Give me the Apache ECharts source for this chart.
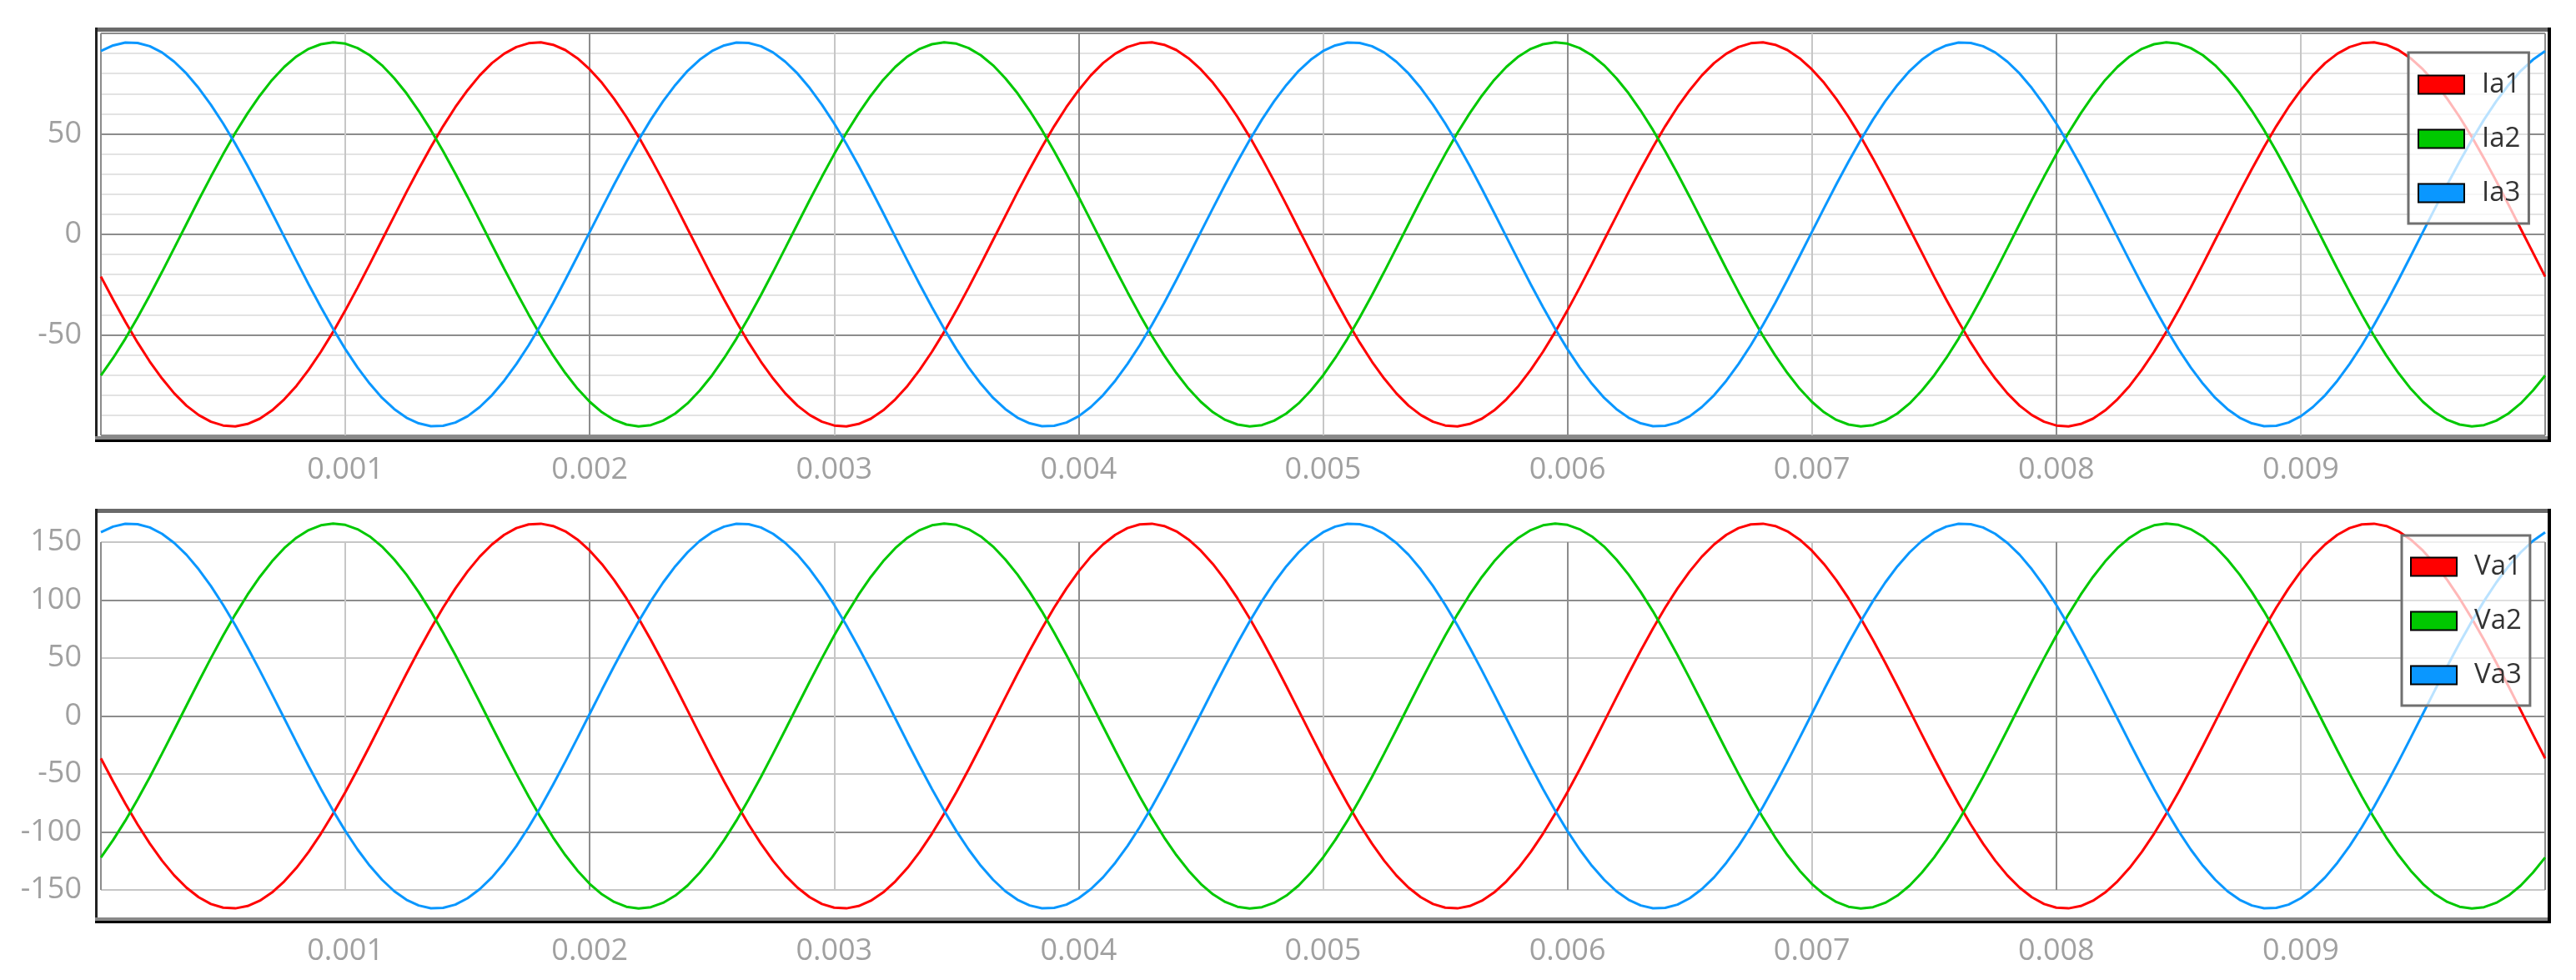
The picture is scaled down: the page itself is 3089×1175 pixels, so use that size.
<!DOCTYPE html>
<html>
<head>
<meta charset="utf-8">
<script src="https://cdn.jsdelivr.net/npm/echarts@6/dist/echarts.min.js"></script>
<style>html,body{margin:0;padding:0;background:#fff;}#c{width:3089px;height:1175px;}</style>
</head>
<body>
<div id="c"></div>
<script>
// time axis (s), sampled every 0.00005 s
const time = [
0,0.00005,0.0001,0.00015,0.0002,0.00025,0.0003,0.00035,0.0004,0.00045,0.0005,0.00055,0.0006,0.00065,0.0007,0.00075,0.0008,0.00085,0.0009,0.00095,
0.001,0.00105,0.0011,0.00115,0.0012,0.00125,0.0013,0.00135,0.0014,0.00145,0.0015,0.00155,0.0016,0.00165,0.0017,0.00175,0.0018,0.00185,0.0019,0.00195,
0.002,0.00205,0.0021,0.00215,0.0022,0.00225,0.0023,0.00235,0.0024,0.00245,0.0025,0.00255,0.0026,0.00265,0.0027,0.00275,0.0028,0.00285,0.0029,0.00295,
0.003,0.00305,0.0031,0.00315,0.0032,0.00325,0.0033,0.00335,0.0034,0.00345,0.0035,0.00355,0.0036,0.00365,0.0037,0.00375,0.0038,0.00385,0.0039,0.00395,
0.004,0.00405,0.0041,0.00415,0.0042,0.00425,0.0043,0.00435,0.0044,0.00445,0.0045,0.00455,0.0046,0.00465,0.0047,0.00475,0.0048,0.00485,0.0049,0.00495,
0.005,0.00505,0.0051,0.00515,0.0052,0.00525,0.0053,0.00535,0.0054,0.00545,0.0055,0.00555,0.0056,0.00565,0.0057,0.00575,0.0058,0.00585,0.0059,0.00595,
0.006,0.00605,0.0061,0.00615,0.0062,0.00625,0.0063,0.00635,0.0064,0.00645,0.0065,0.00655,0.0066,0.00665,0.0067,0.00675,0.0068,0.00685,0.0069,0.00695,
0.007,0.00705,0.0071,0.00715,0.0072,0.00725,0.0073,0.00735,0.0074,0.00745,0.0075,0.00755,0.0076,0.00765,0.0077,0.00775,0.0078,0.00785,0.0079,0.00795,
0.008,0.00805,0.0081,0.00815,0.0082,0.00825,0.0083,0.00835,0.0084,0.00845,0.0085,0.00855,0.0086,0.00865,0.0087,0.00875,0.0088,0.00885,0.0089,0.00895,
0.009,0.00905,0.0091,0.00915,0.0092,0.00925,0.0093,0.00935,0.0094,0.00945,0.0095,0.00955,0.0096,0.00965,0.0097,0.00975,0.0098,0.00985,0.0099,0.00995,
0.01];

const ia1 = [
-21.0,-32.5,-43.5,-53.8,-63.3,-71.7,-79.1,-85.2,-89.9,-93.2,-95.1,-95.5,-94.3,-91.7,-87.6,-82.1,-75.4,-67.4,-58.4,-48.5,-37.8,-26.5,-14.8,-2.8,9.1,
21.0,32.5,43.5,53.8,63.3,71.7,79.1,85.2,89.9,93.2,95.1,95.5,94.3,91.7,87.6,82.1,75.4,67.4,58.4,48.5,37.8,26.5,14.8,2.8,-9.1,
-21.0,-32.5,-43.5,-53.8,-63.3,-71.7,-79.1,-85.2,-89.9,-93.2,-95.1,-95.5,-94.3,-91.7,-87.6,-82.1,-75.4,-67.4,-58.4,-48.5,-37.8,-26.5,-14.8,-2.8,9.1,
21.0,32.5,43.5,53.8,63.3,71.7,79.1,85.2,89.9,93.2,95.1,95.5,94.3,91.7,87.6,82.1,75.4,67.4,58.4,48.5,37.8,26.5,14.8,2.8,-9.1,
-21.0,-32.5,-43.5,-53.8,-63.3,-71.7,-79.1,-85.2,-89.9,-93.2,-95.1,-95.5,-94.3,-91.7,-87.6,-82.1,-75.4,-67.4,-58.4,-48.5,-37.8,-26.5,-14.8,-2.8,9.1,
21.0,32.5,43.5,53.8,63.3,71.7,79.1,85.2,89.9,93.2,95.1,95.5,94.3,91.7,87.6,82.1,75.4,67.4,58.4,48.5,37.8,26.5,14.8,2.8,-9.1,
-21.0,-32.5,-43.5,-53.8,-63.3,-71.7,-79.1,-85.2,-89.9,-93.2,-95.1,-95.5,-94.3,-91.7,-87.6,-82.1,-75.4,-67.4,-58.4,-48.5,-37.8,-26.5,-14.8,-2.8,9.1,
21.0,32.5,43.5,53.8,63.3,71.7,79.1,85.2,89.9,93.2,95.1,95.5,94.3,91.7,87.6,82.1,75.4,67.4,58.4,48.5,37.8,26.5,14.8,2.8,-9.1,
-21.0];
const ia2 = [
-70.2,-61.5,-51.9,-41.4,-30.3,-18.7,-6.8,5.2,17.1,28.7,39.9,50.5,60.2,69.0,76.8,83.3,88.5,92.3,94.6,95.5,94.9,92.7,89.1,84.1,77.7,
70.2,61.5,51.9,41.4,30.3,18.7,6.8,-5.2,-17.1,-28.7,-39.9,-50.5,-60.2,-69.0,-76.8,-83.3,-88.5,-92.3,-94.6,-95.5,-94.9,-92.7,-89.1,-84.1,-77.7,
-70.2,-61.5,-51.9,-41.4,-30.3,-18.7,-6.8,5.2,17.1,28.7,39.9,50.5,60.2,69.0,76.8,83.3,88.5,92.3,94.6,95.5,94.9,92.7,89.1,84.1,77.7,
70.2,61.5,51.9,41.4,30.3,18.7,6.8,-5.2,-17.1,-28.7,-39.9,-50.5,-60.2,-69.0,-76.8,-83.3,-88.5,-92.3,-94.6,-95.5,-94.9,-92.7,-89.1,-84.1,-77.7,
-70.2,-61.5,-51.9,-41.4,-30.3,-18.7,-6.8,5.2,17.1,28.7,39.9,50.5,60.2,69.0,76.8,83.3,88.5,92.3,94.6,95.5,94.9,92.7,89.1,84.1,77.7,
70.2,61.5,51.9,41.4,30.3,18.7,6.8,-5.2,-17.1,-28.7,-39.9,-50.5,-60.2,-69.0,-76.8,-83.3,-88.5,-92.3,-94.6,-95.5,-94.9,-92.7,-89.1,-84.1,-77.7,
-70.2,-61.5,-51.9,-41.4,-30.3,-18.7,-6.8,5.2,17.1,28.7,39.9,50.5,60.2,69.0,76.8,83.3,88.5,92.3,94.6,95.5,94.9,92.7,89.1,84.1,77.7,
70.2,61.5,51.9,41.4,30.3,18.7,6.8,-5.2,-17.1,-28.7,-39.9,-50.5,-60.2,-69.0,-76.8,-83.3,-88.5,-92.3,-94.6,-95.5,-94.9,-92.7,-89.1,-84.1,-77.7,
-70.2];
const ia3 = [
91.2,94.0,95.4,95.2,93.6,90.5,85.9,80.0,72.8,64.5,55.2,45.0,34.1,22.6,10.8,-1.2,-13.1,-24.9,-36.2,-47.0,-57.1,-66.2,-74.3,-81.3,-86.9,
-91.2,-94.0,-95.4,-95.2,-93.6,-90.5,-85.9,-80.0,-72.8,-64.5,-55.2,-45.0,-34.1,-22.6,-10.8,1.2,13.1,24.9,36.2,47.0,57.1,66.2,74.3,81.3,86.9,
91.2,94.0,95.4,95.2,93.6,90.5,85.9,80.0,72.8,64.5,55.2,45.0,34.1,22.6,10.8,-1.2,-13.1,-24.9,-36.2,-47.0,-57.1,-66.2,-74.3,-81.3,-86.9,
-91.2,-94.0,-95.4,-95.2,-93.6,-90.5,-85.9,-80.0,-72.8,-64.5,-55.2,-45.0,-34.1,-22.6,-10.8,1.2,13.1,24.9,36.2,47.0,57.1,66.2,74.3,81.3,86.9,
91.2,94.0,95.4,95.2,93.6,90.5,85.9,80.0,72.8,64.5,55.2,45.0,34.1,22.6,10.8,-1.2,-13.1,-24.9,-36.2,-47.0,-57.1,-66.2,-74.3,-81.3,-86.9,
-91.2,-94.0,-95.4,-95.2,-93.6,-90.5,-85.9,-80.0,-72.8,-64.5,-55.2,-45.0,-34.1,-22.6,-10.8,1.2,13.1,24.9,36.2,47.0,57.1,66.2,74.3,81.3,86.9,
91.2,94.0,95.4,95.2,93.6,90.5,85.9,80.0,72.8,64.5,55.2,45.0,34.1,22.6,10.8,-1.2,-13.1,-24.9,-36.2,-47.0,-57.1,-66.2,-74.3,-81.3,-86.9,
-91.2,-94.0,-95.4,-95.2,-93.6,-90.5,-85.9,-80.0,-72.8,-64.5,-55.2,-45.0,-34.1,-22.6,-10.8,1.2,13.1,24.9,36.2,47.0,57.1,66.2,74.3,81.3,86.9,
91.2];
const va1 = [
-36.5,-56.5,-75.6,-93.5,-110.0,-124.7,-137.5,-148.0,-156.3,-162.1,-165.3,-165.9,-163.9,-159.3,-152.2,-142.7,-131.0,-117.2,-101.5,-84.2,-65.7,-46.0,-25.7,-4.9,15.9,
36.5,56.5,75.6,93.5,110.0,124.7,137.5,148.0,156.3,162.1,165.3,165.9,163.9,159.3,152.2,142.7,131.0,117.2,101.5,84.2,65.7,46.0,25.7,4.9,-15.9,
-36.5,-56.5,-75.6,-93.5,-110.0,-124.7,-137.5,-148.0,-156.3,-162.1,-165.3,-165.9,-163.9,-159.3,-152.2,-142.7,-131.0,-117.2,-101.5,-84.2,-65.7,-46.0,-25.7,-4.9,15.9,
36.5,56.5,75.6,93.5,110.0,124.7,137.5,148.0,156.3,162.1,165.3,165.9,163.9,159.3,152.2,142.7,131.0,117.2,101.5,84.2,65.7,46.0,25.7,4.9,-15.9,
-36.5,-56.5,-75.6,-93.5,-110.0,-124.7,-137.5,-148.0,-156.3,-162.1,-165.3,-165.9,-163.9,-159.3,-152.2,-142.7,-131.0,-117.2,-101.5,-84.2,-65.7,-46.0,-25.7,-4.9,15.9,
36.5,56.5,75.6,93.5,110.0,124.7,137.5,148.0,156.3,162.1,165.3,165.9,163.9,159.3,152.2,142.7,131.0,117.2,101.5,84.2,65.7,46.0,25.7,4.9,-15.9,
-36.5,-56.5,-75.6,-93.5,-110.0,-124.7,-137.5,-148.0,-156.3,-162.1,-165.3,-165.9,-163.9,-159.3,-152.2,-142.7,-131.0,-117.2,-101.5,-84.2,-65.7,-46.0,-25.7,-4.9,15.9,
36.5,56.5,75.6,93.5,110.0,124.7,137.5,148.0,156.3,162.1,165.3,165.9,163.9,159.3,152.2,142.7,131.0,117.2,101.5,84.2,65.7,46.0,25.7,4.9,-15.9,
-36.5];
const va2 = [
-122.0,-106.9,-90.2,-72.0,-52.7,-32.5,-11.9,9.0,29.7,49.9,69.4,87.7,104.7,120.0,133.4,144.8,153.8,160.4,164.5,166.0,164.9,161.1,154.9,146.2,135.1,
122.0,106.9,90.2,72.0,52.7,32.5,11.9,-9.0,-29.7,-49.9,-69.4,-87.7,-104.7,-120.0,-133.4,-144.8,-153.8,-160.4,-164.5,-166.0,-164.9,-161.1,-154.9,-146.2,-135.1,
-122.0,-106.9,-90.2,-72.0,-52.7,-32.5,-11.9,9.0,29.7,49.9,69.4,87.7,104.7,120.0,133.4,144.8,153.8,160.4,164.5,166.0,164.9,161.1,154.9,146.2,135.1,
122.0,106.9,90.2,72.0,52.7,32.5,11.9,-9.0,-29.7,-49.9,-69.4,-87.7,-104.7,-120.0,-133.4,-144.8,-153.8,-160.4,-164.5,-166.0,-164.9,-161.1,-154.9,-146.2,-135.1,
-122.0,-106.9,-90.2,-72.0,-52.7,-32.5,-11.9,9.0,29.7,49.9,69.4,87.7,104.7,120.0,133.4,144.8,153.8,160.4,164.5,166.0,164.9,161.1,154.9,146.2,135.1,
122.0,106.9,90.2,72.0,52.7,32.5,11.9,-9.0,-29.7,-49.9,-69.4,-87.7,-104.7,-120.0,-133.4,-144.8,-153.8,-160.4,-164.5,-166.0,-164.9,-161.1,-154.9,-146.2,-135.1,
-122.0,-106.9,-90.2,-72.0,-52.7,-32.5,-11.9,9.0,29.7,49.9,69.4,87.7,104.7,120.0,133.4,144.8,153.8,160.4,164.5,166.0,164.9,161.1,154.9,146.2,135.1,
122.0,106.9,90.2,72.0,52.7,32.5,11.9,-9.0,-29.7,-49.9,-69.4,-87.7,-104.7,-120.0,-133.4,-144.8,-153.8,-160.4,-164.5,-166.0,-164.9,-161.1,-154.9,-146.2,-135.1,
-122.0];
const va3 = [
158.5,163.4,165.8,165.5,162.7,157.2,149.3,139.1,126.6,112.1,95.9,78.2,59.2,39.3,18.8,-2.0,-22.8,-43.2,-63.0,-81.7,-99.2,-115.1,-129.2,-141.2,-151.1,
-158.5,-163.4,-165.8,-165.5,-162.7,-157.2,-149.3,-139.1,-126.6,-112.1,-95.9,-78.2,-59.2,-39.3,-18.8,2.0,22.8,43.2,63.0,81.7,99.2,115.1,129.2,141.2,151.1,
158.5,163.4,165.8,165.5,162.7,157.2,149.3,139.1,126.6,112.1,95.9,78.2,59.2,39.3,18.8,-2.0,-22.8,-43.2,-63.0,-81.7,-99.2,-115.1,-129.2,-141.2,-151.1,
-158.5,-163.4,-165.8,-165.5,-162.7,-157.2,-149.3,-139.1,-126.6,-112.1,-95.9,-78.2,-59.2,-39.3,-18.8,2.0,22.8,43.2,63.0,81.7,99.2,115.1,129.2,141.2,151.1,
158.5,163.4,165.8,165.5,162.7,157.2,149.3,139.1,126.6,112.1,95.9,78.2,59.2,39.3,18.8,-2.0,-22.8,-43.2,-63.0,-81.7,-99.2,-115.1,-129.2,-141.2,-151.1,
-158.5,-163.4,-165.8,-165.5,-162.7,-157.2,-149.3,-139.1,-126.6,-112.1,-95.9,-78.2,-59.2,-39.3,-18.8,2.0,22.8,43.2,63.0,81.7,99.2,115.1,129.2,141.2,151.1,
158.5,163.4,165.8,165.5,162.7,157.2,149.3,139.1,126.6,112.1,95.9,78.2,59.2,39.3,18.8,-2.0,-22.8,-43.2,-63.0,-81.7,-99.2,-115.1,-129.2,-141.2,-151.1,
-158.5,-163.4,-165.8,-165.5,-162.7,-157.2,-149.3,-139.1,-126.6,-112.1,-95.9,-78.2,-59.2,-39.3,-18.8,2.0,22.8,43.2,63.0,81.7,99.2,115.1,129.2,141.2,151.1,
158.5];

const currentNames = ['Ia1','Ia2','Ia3'];
const voltageNames = ['Va1','Va2','Va3'];
const phaseColors = ['#ff0000','#00c800','#0a97ff'];

const FONT = '"Open Sans", "Noto Sans", sans-serif';
const DARK = '#8c8c8c', LIGHT = '#c6c6c6', MINOR = '#e3e3e3';

function pairs(vals){ return time.map((t,i)=>[t, vals[i]]); }

function xAxisCfg(gridIndex, margin){
  return {
    type:'value', gridIndex, min:0, max:0.01, interval:0.001,
    axisLine:{show:false}, axisTick:{show:false},
    axisLabel:{show:true, showMinLabel:false, showMaxLabel:false, margin,
      fontSize:36, color:'#a0a0a0', fontFamily:FONT,
      formatter:v=>v.toFixed(3)},
    splitLine:{show:true, lineStyle:{color:[DARK, LIGHT], width:2}}
  };
}

const chart = echarts.init(document.getElementById('c'), null, {renderer:'canvas'});

const mkSeries = (names, arrs, axisIdx) => names.map((n,i)=>({
  name:n, type:'line', xAxisIndex:axisIdx, yAxisIndex:axisIdx,
  data:pairs(arrs[i]), showSymbol:false, smooth:false, clip:false,
  lineStyle:{color:phaseColors[i], width:3}, itemStyle:{color:phaseColors[i]},
  z:2, silent:true
}));

const frame = (top, bottom) => [
  {type:'rect', shape:{x:114, y:top, width:2945, height:5}, style:{fill:'#6a6a6a'}, z:3},
  {type:'rect', shape:{x:114, y:top, width:3, height:bottom-top}, style:{fill:'#222'}, z:3},
  {type:'rect', shape:{x:114, y:bottom-7, width:2945, height:4}, style:{fill:'#888'}, z:3},
  {type:'rect', shape:{x:114, y:bottom-3, width:2945, height:3}, style:{fill:'#000'}, z:3},
  {type:'rect', shape:{x:3055, y:top, width:4, height:bottom-top}, style:{fill:'#000'}, z:3}
];

const legendCfg = (names, left, top, pad) => ({
  data:names, orient:'vertical', left, top,
  itemWidth:55, itemHeight:22, itemGap:32, icon:'rect',
  padding:pad, backgroundColor:'rgba(255,255,255,0.72)',
  borderColor:'#707070', borderWidth:3, borderRadius:0,
  itemStyle:{borderColor:'#000', borderWidth:2},
  textStyle:{fontSize:33, color:'#333', fontFamily:FONT, padding:[0,0,0,16]},
  selectedMode:false, z:5
});

chart.setOption({
  animation:false,
  backgroundColor:'#ffffff',
  grid:[
    {left:121, right:37, top:40, height:482},
    {left:121, right:37, top:650, height:417}
  ],
  xAxis:[ xAxisCfg(0, 24), xAxisCfg(1, 56) ],
  yAxis:[
    {type:'value', gridIndex:0, min:-100, max:100, interval:50,
     axisLine:{show:false}, axisTick:{show:false},
     axisLabel:{showMinLabel:false, showMaxLabel:false, margin:23, fontSize:36, color:'#a0a0a0', fontFamily:FONT},
     splitLine:{show:true, lineStyle:{color:DARK, width:2}},
     minorTick:{show:false, splitNumber:5},
     minorSplitLine:{show:true, lineStyle:{color:MINOR, width:2}}},
    {type:'value', gridIndex:1, min:-150, max:150, interval:50,
     axisLine:{show:false}, axisTick:{show:false},
     axisLabel:{margin:23, fontSize:36, color:'#a0a0a0', fontFamily:FONT},
     splitLine:{show:true, lineStyle:{color:[LIGHT, DARK], width:2}}}
  ],
  legend:[
    legendCfg(currentNames, 2888, 63, [22, 10, 20, 11]),
    legendCfg(voltageNames, 2880, 642, [21, 10, 20, 10])
  ],
  graphic: frame(33, 530).concat(frame(610, 1107)),
  series: mkSeries(currentNames, [ia1, ia2, ia3], 0).concat(mkSeries(voltageNames, [va1, va2, va3], 1))
});
</script>
</body>
</html>
